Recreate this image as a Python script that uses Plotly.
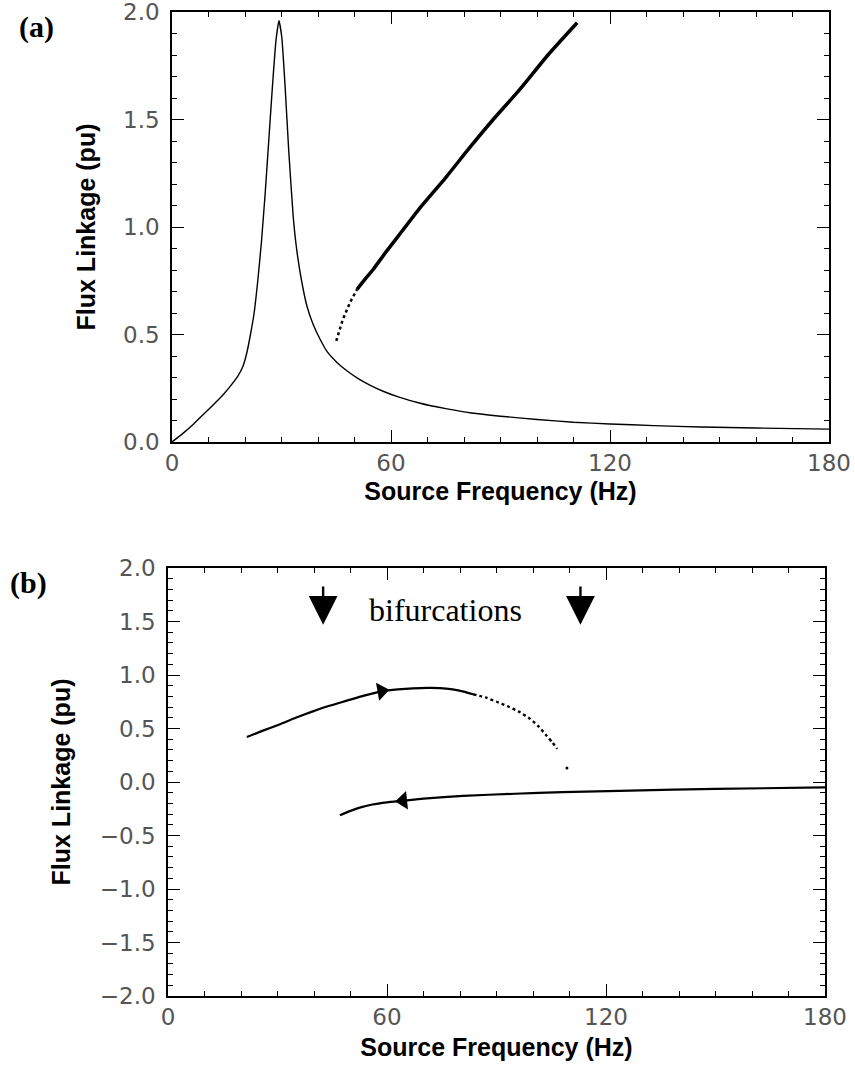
import plotly.graph_objects as go

# ---------------- data ----------------
# Panel (a): lower (resonant) branch
a_low_f = [0, 3, 6, 9, 12, 14, 16, 18, 19.5, 20.5, 21.5, 22.5, 23.5, 24.5, 25.5, 26.5,
           27.5, 28.5, 29.3, 30.1, 31, 32, 33.2, 34.2, 35.5, 37, 38.6, 40.5, 42.5,
           45.2, 48, 51, 54.2, 58, 62, 68, 75, 82, 90, 100, 110, 120, 132, 145,
           160, 180]
a_low_v = [0, 0.04, 0.085, 0.135, 0.185, 0.22, 0.26, 0.305, 0.355, 0.415, 0.5, 0.6, 0.75,
           0.93, 1.15, 1.4, 1.65, 1.87, 1.96, 1.88, 1.65, 1.35, 1.05, 0.89, 0.75,
           0.63, 0.55, 0.48, 0.42, 0.37, 0.33, 0.295, 0.265, 0.235, 0.21, 0.18,
           0.155, 0.135, 0.12, 0.105, 0.092, 0.084, 0.076, 0.07, 0.065, 0.06]
# Panel (a): upper (ferroresonant) branch
a_up_start_f = [45, 46.8, 48.8, 50.7]
a_up_start_v = [0.47, 0.57, 0.65, 0.71]
a_up_f = [50.7, 53, 55, 58.9, 63, 68, 75, 81.6, 88, 95.3, 103, 111]
a_up_v = [0.71, 0.76, 0.8, 0.89, 0.98, 1.09, 1.23, 1.37, 1.5, 1.64, 1.8, 1.95]

# Panel (b): upper trajectory (increasing frequency)
b_up_f = [21.6, 26, 30.7, 35, 39.7, 44, 49, 54, 58.9, 63, 67.1, 71, 74.5, 78, 81, 83.6]
b_up_v = [0.42, 0.48, 0.54, 0.6, 0.66, 0.71, 0.76, 0.81, 0.85, 0.865, 0.875,
          0.88, 0.878, 0.865, 0.845, 0.82]
b_up_tail_f = [83.6, 87, 90, 92.9, 96, 99.2, 101.5, 103.8, 105.3, 106.6]
b_up_tail_v = [0.82, 0.79, 0.75, 0.71, 0.66, 0.59, 0.52, 0.43, 0.37, 0.31]
b_up_dot_f = [109.3]
b_up_dot_v = [0.13]
# Panel (b): lower trajectory (decreasing frequency)
b_low_f = [47.1, 50, 53, 56, 60, 64.4, 70, 80.8, 95, 108, 126.6, 150, 180]
b_low_v = [-0.31, -0.27, -0.235, -0.21, -0.19, -0.175, -0.155, -0.13, -0.11,
           -0.095, -0.08, -0.065, -0.05]

# direction arrows on trajectories
dir_f = [58.5, 64.4]
dir_v = [0.85, -0.175]
dir_sym = ["triangle-right", "triangle-left"]
dir_ang = [-10, -6]

# bifurcation markers
bif_f = [42.5, 113]
bif_top = 1.84
bif_tip = 1.47
bif_text_f = 76
bif_text_v = 1.61

x_ticks = [0, 60, 120, 180]
a_yticks = [0.0, 0.5, 1.0, 1.5, 2.0]
b_yticks = [2.0, 1.5, 1.0, 0.5, 0.0, -0.5, -1.0, -1.5, -2.0]

# ---------------- figure ----------------
W, H = 855, 1067
fig = go.Figure()

fig.add_trace(go.Scatter(x=a_low_f, y=a_low_v, mode="lines",
                         line=dict(color="black", width=1.4, shape="spline", smoothing=0.4),
                         xaxis="x", yaxis="y"))
fig.add_trace(go.Scatter(x=a_up_start_f, y=a_up_start_v, mode="lines",
                         line=dict(color="black", width=2.5, dash="dot"), xaxis="x", yaxis="y"))
fig.add_trace(go.Scatter(x=a_up_f, y=a_up_v, mode="lines",
                         line=dict(color="black", width=3.5, shape="spline", smoothing=0.6),
                         xaxis="x", yaxis="y"))

fig.add_trace(go.Scatter(x=b_up_f, y=b_up_v, mode="lines",
                         line=dict(color="black", width=2.2, shape="spline", smoothing=0.6),
                         xaxis="x2", yaxis="y2"))
fig.add_trace(go.Scatter(x=b_up_tail_f, y=b_up_tail_v, mode="lines",
                         line=dict(color="black", width=2.4, dash="dot", shape="spline",
                                   smoothing=0.6),
                         xaxis="x2", yaxis="y2"))
fig.add_trace(go.Scatter(x=b_up_dot_f, y=b_up_dot_v, mode="markers",
                         marker=dict(color="black", size=3), xaxis="x2", yaxis="y2"))
fig.add_trace(go.Scatter(x=b_low_f, y=b_low_v, mode="lines",
                         line=dict(color="black", width=2.2, shape="spline", smoothing=0.6),
                         xaxis="x2", yaxis="y2"))
fig.add_trace(go.Scatter(x=dir_f, y=dir_v, mode="markers",
                         marker=dict(color="black", size=16, symbol=dir_sym, angle=dir_ang),
                         xaxis="x2", yaxis="y2"))

tick_font = dict(family="DejaVu Sans", size=23, color="#555555")
title_font = dict(family="Liberation Sans", size=25, color="black")

common_x = dict(range=[0, 180], tickvals=x_ticks, ticks="inside", ticklen=12,
                tickwidth=1.2, tickcolor="black", showline=True, linecolor="black",
                linewidth=1.5, mirror="allticks", showgrid=False, zeroline=False,
                tickfont=tick_font, automargin=False, ticklabeloverflow="allow",
                minor=dict(dtick=10, ticks="inside", ticklen=5, tickcolor="black",
                           tickwidth=1.2, showgrid=False))
common_y = dict(ticks="inside", ticklen=12, tickwidth=1.2, tickcolor="black",
                showline=True, linecolor="black", linewidth=1.5, mirror="allticks",
                showgrid=False, zeroline=False, tickfont=tick_font, automargin=False,
                tickformat=".1f", ticklabelstandoff=6, ticklabeloverflow="allow",
                minor=dict(dtick=0.1, ticks="inside", ticklen=5, tickcolor="black",
                           tickwidth=1.2, showgrid=False))

fig.update_layout(
    width=W, height=H, template="none", showlegend=False,
    paper_bgcolor="white", plot_bgcolor="white",
    margin=dict(l=0, r=0, t=0, b=0),
    xaxis=dict(common_x, domain=[172 / W, 829 / W], anchor="y",
               title=dict(text="<b>Source Frequency (Hz)</b>", font=title_font, standoff=7)),
    yaxis=dict(common_y, domain=[1 - 442 / H, 1 - 12 / H], anchor="x", range=[0, 2.0],
               tickvals=a_yticks,
               title=dict(text="<b>Flux Linkage (pu)</b>", font=title_font, standoff=20)),
    xaxis2=dict(common_x, domain=[168 / W, 825 / W], anchor="y2",
                title=dict(text="<b>Source Frequency (Hz)</b>", font=title_font, standoff=9)),
    yaxis2=dict(common_y, domain=[1 - 996 / H, 1 - 568 / H], anchor="x2", range=[-2.0, 2.0],
                tickvals=b_yticks,
                title=dict(text="<b>Flux Linkage (pu)</b>", font=title_font, standoff=22)),
)

annotations = [
    dict(text="<b>(a)</b>", x=36 / W, y=1 - 27 / H, xref="paper", yref="paper",
         xanchor="center", yanchor="middle",
         showarrow=False, font=dict(family="Liberation Serif", size=30, color="black")),
    dict(text="<b>(b)</b>", x=29 / W, y=1 - 583 / H, xref="paper", yref="paper",
         xanchor="center", yanchor="middle",
         showarrow=False, font=dict(family="Liberation Serif", size=30, color="black")),
    dict(text="bifurcations", x=bif_text_f, y=bif_text_v, xref="x2", yref="y2",
         showarrow=False, font=dict(family="Liberation Serif", size=32, color="black")),
]
for f in bif_f:
    annotations.append(dict(text="", x=f, y=bif_tip, xref="x2", yref="y2",
                            ax=f, ay=bif_top, axref="x2", ayref="y2",
                            showarrow=True, arrowhead=2, arrowsize=2.4, arrowwidth=2.4,
                            arrowcolor="black"))
fig.update_layout(annotations=annotations)

fig.write_html("out.html")
